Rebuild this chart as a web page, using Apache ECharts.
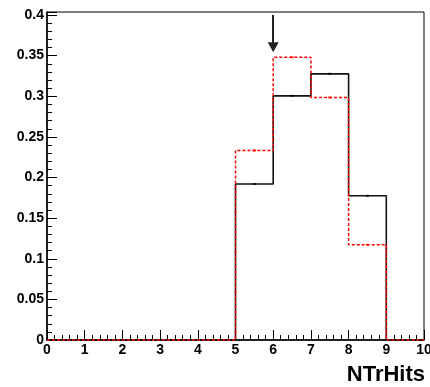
<!DOCTYPE html>
<html>
<head>
<meta charset="utf-8">
<script src="https://cdn.jsdelivr.net/npm/echarts@6/dist/echarts.min.js"></script>
<style>
html,body{margin:0;padding:0;background:#fff;}
#c{width:430px;height:387px;}
</style>
</head>
<body>
<div id="c"></div>
<script>
// Bin edges (NTrHits) and histogram contents
var binEdges = [0, 1, 2, 3, 4, 5, 6, 7, 8, 9, 10];
var blackValues = [0, 0, 0, 0, 0, 0.192, 0.3005, 0.3276, 0.1775, 0];
var redValues   = [0, 0, 0, 0, 0, 0.2333, 0.348, 0.2985, 0.1172, 0];
var xTickLabels = ['0','1','2','3','4','5','6','7','8','9','10'];
var yMax = 0.4037;
var arrowX = 6, arrowTop = 0.4, arrowHead = 0.3604;
var xTitle = 'NTrHits';

function stepPoints(vals) {
  var pts = [];
  for (var i = 0; i < vals.length; i++) {
    pts.push([binEdges[i], vals[i]]);
    pts.push([binEdges[i + 1], vals[i]]);
  }
  return pts;
}
function centerPoints(vals) {
  var pts = [];
  for (var i = 0; i < vals.length; i++) {
    if (vals[i] > 0) pts.push([(binEdges[i] + binEdges[i + 1]) / 2, vals[i]]);
  }
  return pts;
}

var font = 'Liberation Sans';
var chart = echarts.init(document.getElementById('c'), null, {renderer: 'canvas'});
chart.setOption({
  animation: false,
  backgroundColor: '#fff',
  title: {
    text: xTitle, right: 5, top: 364, padding: 0,
    textStyle: {fontFamily: font, fontWeight: 'bold', fontSize: 22, color: '#000'}
  },
  grid: {left: 47, right: 6, top: 12, bottom: 47, show: true, borderColor: '#000', borderWidth: 1,
         backgroundColor: '#fff', containLabel: false, outerBoundsMode: 'none'},
  xAxis: {
    type: 'value', min: 0, max: 10, interval: 1,
    axisLine: {show: true, onZero: false, lineStyle: {color: '#000', width: 1.5}},
    axisTick: {show: true, inside: true, length: 10, lineStyle: {color: '#000', width: 1}},
    minorTick: {show: true, splitNumber: 5, length: 5, lineStyle: {color: '#000', width: 1}},
    splitLine: {show: false}, minorSplitLine: {show: false},
    axisLabel: {
      margin: 3, fontFamily: font, fontWeight: 'bold', fontSize: 14, color: '#000',
      showMaxLabel: true, showMinLabel: true, hideOverlap: false,
      formatter: function (v) { var i = binEdges.indexOf(v); return i >= 0 ? xTickLabels[i] : ''; }
    }
  },
  yAxis: {
    type: 'value', min: 0, max: yMax, interval: 0.05,
    axisLine: {show: true, lineStyle: {color: '#000', width: 1.5}},
    axisTick: {show: true, inside: true, length: 10, lineStyle: {color: '#000', width: 1}},
    minorTick: {show: true, splitNumber: 5, length: 5, lineStyle: {color: '#000', width: 1}},
    splitLine: {show: false}, minorSplitLine: {show: false},
    axisLabel: {
      margin: 3, fontFamily: font, fontWeight: 'bold', fontSize: 14, color: '#000',
      showMaxLabel: false,
      formatter: function (v) { return String(Math.round(v * 100) / 100); }
    }
  },
  series: [
    {
      type: 'line', data: stepPoints(blackValues), showSymbol: false, symbol: 'none',
      lineStyle: {color: '#111', width: 1.6}, z: 2,
      markLine: {
        silent: true, animation: false,
        label: {show: false},
        lineStyle: {color: '#222', width: 2, type: 'solid'},
        itemStyle: {color: '#000'},
        symbol: ['none', 'triangle'], symbolSize: [11, 10],
        data: [[{coord: [arrowX, arrowTop]}, {coord: [arrowX, arrowHead]}]]
      }
    },
    {
      type: 'scatter', data: centerPoints(blackValues), symbol: 'rect', symbolSize: [3, 2],
      itemStyle: {color: '#000'}, z: 3
    },
    {
      type: 'line', data: stepPoints(redValues), showSymbol: false, symbol: 'none',
      lineStyle: {color: '#ff0000', width: 1.5, type: [3, 2]}, z: 4
    },
    {
      type: 'scatter', data: centerPoints(redValues), symbol: 'rect', symbolSize: [3, 2],
      itemStyle: {color: '#ff0000'}, z: 5
    }
  ]
});
</script>
</body>
</html>
